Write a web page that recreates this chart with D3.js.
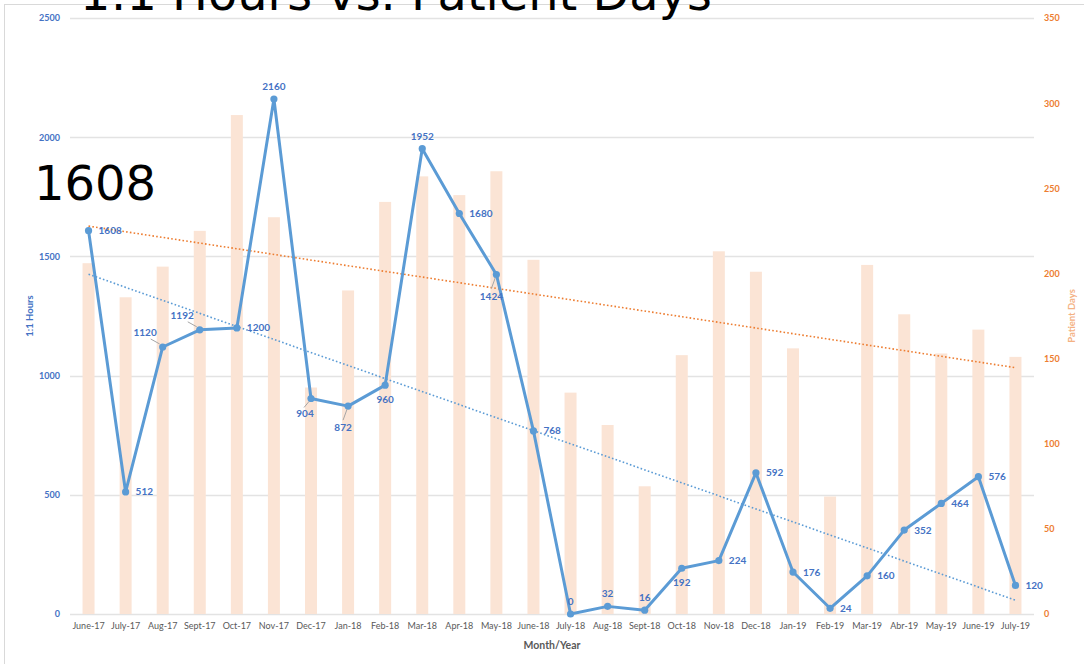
<!DOCTYPE html>
<html><head><meta charset="utf-8">
<script src="https://cdn.jsdelivr.net/npm/d3@7"></script>
<style>
html,body{margin:0;padding:0;background:#fff;overflow:hidden}
svg{display:block}
</style></head>
<body>
<svg id="chart" width="1084" height="664"></svg>
<script>
const months = ["June-17","July-17","Aug-17","Sept-17","Oct-17","Nov-17","Dec-17","Jan-18","Feb-18","Mar-18","Apr-18","May-18","June-18","July-18","Aug-18","Sept-18","Oct-18","Nov-18","Dec-18","Jan-19","Feb-19","Mar-19","Abr-19","May-19","June-19","July-19"];
const hours = [1608,512,1120,1192,1200,2160,904,872,960,1952,1680,1424,768,0,32,16,192,224,592,176,24,160,352,464,576,120];
const patientDays = [206,186,204,225,293,233,133,190,242,257,246,260,208,130,111,75,152,213,201,156,69,205,176,153,167,151];
const hoursTicks = [0,500,1000,1500,2000,2500];
const daysTicks = [0,50,100,150,200,250,300,350];
// label placement for each hours data label: r=right, t=top, b=below, b2=further below, tl=top-left, bl=bottom-left
const labelPlace = ["r","r","tl","tl","r","t","bl","b2","b","t","r","b2","r","t","t","t","b","r","r","r","r","r","r","r","r","r"];

const svg = d3.select("#chart");
const x0 = 70, x1 = 1034, y0 = 614, y1 = 18;

// frame
svg.append("rect").attr("x",4.5).attr("y",4.5).attr("width",1100).attr("height",700)
  .attr("fill","none").attr("stroke","#d9d9d9").attr("stroke-width",1);

const x = d3.scaleBand().domain(months).range([x0,x1]);
const yL = d3.scaleLinear().domain([0,2500]).range([y0,y1]);
const yR = d3.scaleLinear().domain([0,350]).range([y0,y1]);
const cx = d => x(d) + x.bandwidth()/2;

const font = "Lato, 'Liberation Sans', sans-serif";

// gridlines
svg.append("g").selectAll("line").data(hoursTicks).join("line")
  .attr("x1",x0).attr("x2",x1)
  .attr("y1",d=>Math.round(yL(d))+0.5).attr("y2",d=>Math.round(yL(d))+0.5)
  .attr("stroke","#e3e3e3").attr("stroke-width",1.5);

// bars
const bw = 12;
svg.append("g").selectAll("rect").data(patientDays).join("rect")
  .attr("x",(d,i)=>cx(months[i])-bw/2)
  .attr("width",bw)
  .attr("y",d=>yR(d))
  .attr("height",d=>y0-yR(d))
  .attr("fill","#fbe4d5");

// linear regression helper
function regress(vals){
  const n = vals.length;
  const xs = vals.map((_,i)=>i+1);
  const mx = d3.mean(xs), my = d3.mean(vals);
  let sxy=0,sxx=0;
  xs.forEach((xv,i)=>{sxy+=(xv-mx)*(vals[i]-my); sxx+=(xv-mx)*(xv-mx);});
  const b = sxy/sxx, a = my - b*mx;
  return [a + b*1, a + b*n];
}
const tH = regress(hours), tD = regress(patientDays);

// trendlines
svg.append("line")
  .attr("x1",cx(months[0])).attr("x2",cx(months[months.length-1]))
  .attr("y1",yR(tD[0])).attr("y2",yR(tD[1]))
  .attr("stroke","#ed7d31").attr("stroke-width",1.6).attr("stroke-dasharray","1.6,2.2");
svg.append("line")
  .attr("x1",cx(months[0])).attr("x2",cx(months[months.length-1]))
  .attr("y1",yL(tH[0])).attr("y2",yL(tH[1]))
  .attr("stroke","#5b9bd5").attr("stroke-width",1.6).attr("stroke-dasharray","1.6,2.2");

// hours line
const line = d3.line().x((d,i)=>cx(months[i])).y(d=>yL(d));
svg.append("path").datum(hours).attr("d",line)
  .attr("fill","none").attr("stroke","#5b9bd5").attr("stroke-width",3).attr("stroke-linejoin","round");
svg.append("g").selectAll("circle").data(hours).join("circle")
  .attr("cx",(d,i)=>cx(months[i])).attr("cy",d=>yL(d)).attr("r",3.6)
  .attr("fill","#5b9bd5");

// data labels
const lg = svg.append("g").attr("font-family",font).attr("font-size",10).attr("font-weight",700).attr("fill","#4472c4");
hours.forEach((v,i)=>{
  const px = cx(months[i]), py = yL(v);
  const p = labelPlace[i];
  let tx=px, ty=py, anchor="middle", leader=null;
  if(p==="r"){tx=px+10; ty=py+3.5; anchor="start";}
  else if(p==="t"){tx=px; ty=py-9; anchor="middle";}
  else if(p==="b"){tx=px; ty=py+18; anchor="middle";}
  else if(p==="b2"){tx=px-5; ty=py+25; anchor="middle"; leader=[px-1,py+3,px-5,py+14];}
  else if(p==="tl"){tx=px-6; ty=py-11; anchor="end"; leader=[px-3,py-3,px-12,py-8];}
  else if(p==="bl"){tx=px-6; ty=py+19; anchor="middle"; leader=[px-2,py+3,px-7,py+9];}
  if(leader){
    svg.append("line").attr("x1",leader[0]).attr("y1",leader[1]).attr("x2",leader[2]).attr("y2",leader[3])
      .attr("stroke","#a6a6a6").attr("stroke-width",1);
  }
  lg.append("text").attr("x",tx).attr("y",ty).attr("text-anchor",anchor).text(v);
});

// left axis
const axL = d3.axisLeft(yL).tickValues(hoursTicks).tickFormat(d3.format("d")).tickSize(0).tickPadding(0);
const gL = svg.append("g").attr("transform",`translate(60,0)`).call(axL);
gL.select(".domain").remove();
gL.selectAll("text").attr("font-family",font).attr("font-size",9).attr("font-weight",700).attr("fill","#4472c4").attr("dy","0.32em");

// right axis
const axR = d3.axisRight(yR).tickValues(daysTicks).tickFormat(d3.format("d")).tickSize(0).tickPadding(0);
const gR = svg.append("g").attr("transform",`translate(1044,0)`).call(axR);
gR.select(".domain").remove();
gR.selectAll("text").attr("font-family",font).attr("font-size",9).attr("font-weight",700).attr("fill","#ed7d31").attr("dy","0.32em");

// bottom axis
const axB = d3.axisBottom(x).tickSize(0).tickPadding(0);
const gB = svg.append("g").attr("transform",`translate(0,${y0+9})`).call(axB);
gB.select(".domain").remove();
gB.selectAll("text").attr("font-family",font).attr("font-size",9).attr("fill","#595959");

// axis titles
svg.append("text").attr("transform","translate(33,316) rotate(-90)").attr("text-anchor","middle")
  .attr("font-family",font).attr("font-size",9.5).attr("font-weight",700).attr("fill","#4472c4").text("1:1 Hours");
svg.append("text").attr("transform","translate(1075,316) rotate(-90)").attr("text-anchor","middle")
  .attr("font-family",font).attr("font-size",9.5).attr("font-weight",700).attr("fill","#f4b183").text("Patient Days");
svg.append("text").attr("x",552).attr("y",649).attr("text-anchor","middle")
  .attr("font-family",font).attr("font-size",10.5).attr("font-weight",700).attr("fill","#595959").text("Month/Year");

// large overlay texts
svg.append("text").attr("x",80).attr("y",10).attr("font-family","'DejaVu Sans', sans-serif").attr("font-size",47.8).attr("fill","#000").text("1:1 Hours vs. Patient Days");
svg.append("text").attr("x",34).attr("y",200).attr("font-family","'DejaVu Sans', sans-serif").attr("font-size",48).attr("fill","#000").text("1608");
</script>
</body></html>
